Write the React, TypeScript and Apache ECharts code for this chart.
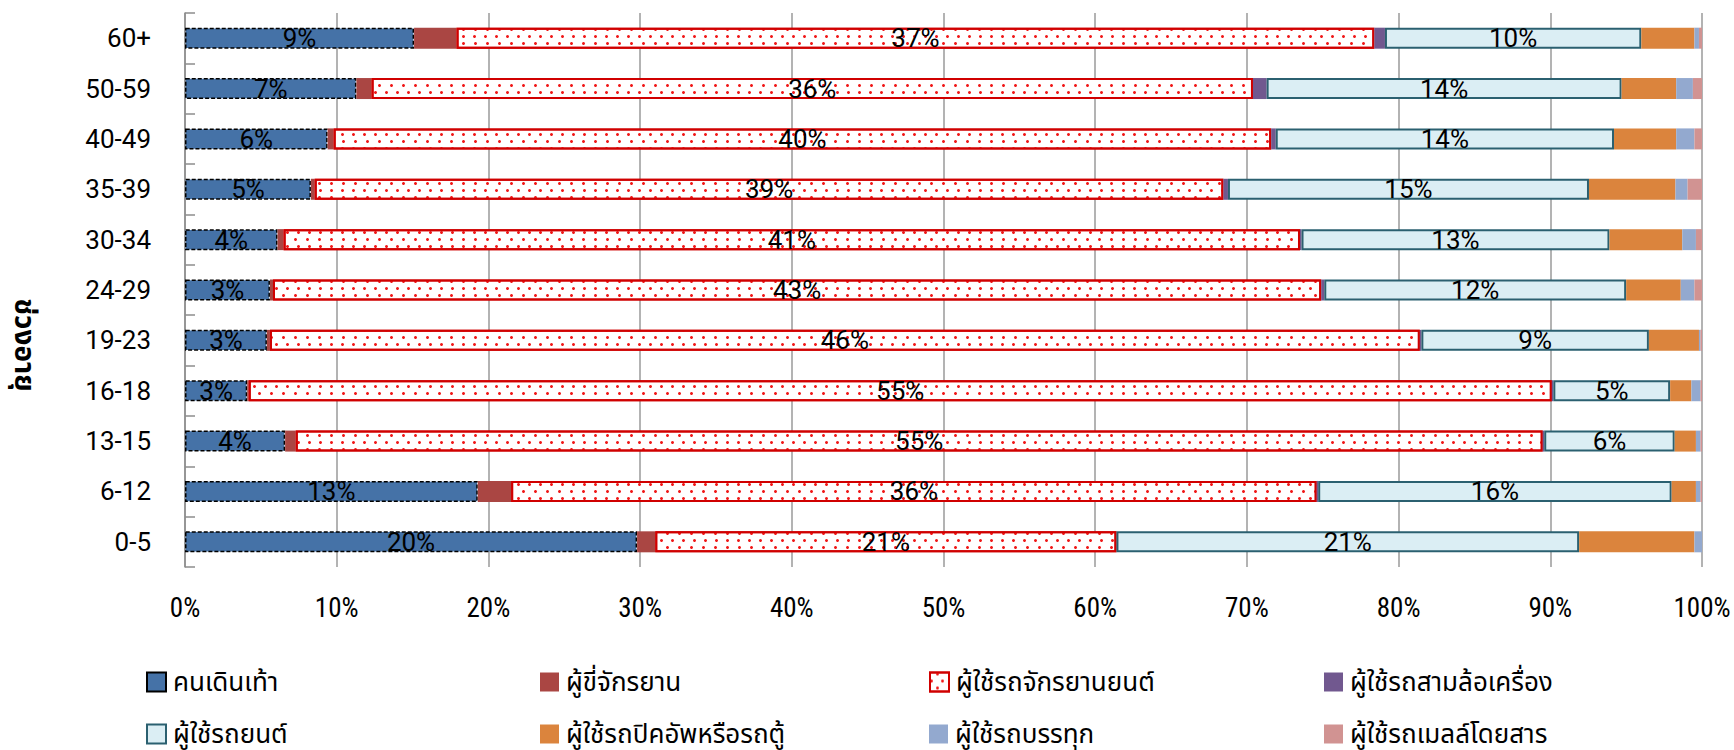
import React, { useEffect, useRef } from "react";
import * as echarts from "echarts";

const categories = ["0-5", "6-12", "13-15", "16-18", "19-23", "24-29", "30-34", "35-39", "40-49", "50-59", "60+"];
const seriesNames = [
  "คนเดินเท้า",
  "ผู้ขี่จักรยาน",
  "ผู้ใช้รถจักรยานยนต์",
  "ผู้ใช้รถสามล้อเครื่อง",
  "ผู้ใช้รถยนต์",
  "ผู้ใช้รถปิคอัพหรือรถตู้",
  "ผู้ใช้รถบรรทุก",
  "ผู้ใช้รถเมลล์โดยสาร",
];
const pedestrian = [29.8, 19.3, 6.6, 4.1, 5.4, 5.6, 6.1, 8.3, 9.4, 11.3, 15.1];
const bicycle = [1.2, 2.2, 0.7, 0.1, 0.2, 0.2, 0.4, 0.25, 0.4, 1.0, 2.8];
const motorcycle = [30.4, 53.1, 82.2, 85.9, 75.8, 69.1, 67.0, 59.9, 61.8, 58.1, 60.5];
const threeWheel = [0, 0.1, 0.1, 0.1, 0.1, 0.2, 0.1, 0.3, 0.3, 0.9, 0.7];
const car = [30.5, 23.3, 8.6, 7.7, 15.0, 19.9, 20.3, 23.8, 22.3, 23.4, 16.9];
const pickup = [7.6, 1.6, 1.4, 1.4, 3.3, 3.6, 4.8, 5.7, 4.1, 3.6, 3.5];
const truck = [0.5, 0.3, 0.3, 0.6, 0.1, 0.9, 0.9, 0.8, 1.2, 1.1, 0.3];
const bus = [0, 0.1, 0.1, 0.1, 0.1, 0.5, 0.4, 0.95, 0.5, 0.6, 0.2];

const pedestrianLabels = [20, 13, 4, 3, 3, 3, 4, 5, 6, 7, 9];
const motorcycleLabels = [21, 36, 55, 55, 46, 43, 41, 39, 40, 36, 37];
const carLabels = [21, 16, 6, 5, 9, 12, 13, 15, 14, 14, 10];

const xTicks = [0, 10, 20, 30, 40, 50, 60, 70, 80, 90, 100];

const FONT = "Roboto, 'Noto Sans Thai', 'Noto Sans', 'DejaVu Sans', sans-serif";
const NARROW = "'Liberation Sans Narrow', 'Roboto Condensed', Roboto, sans-serif";

export default function App() {
  const ref = useRef<HTMLDivElement>(null);
  useEffect(() => {
    if (!ref.current) return;
    const chart = echarts.init(ref.current, null, { renderer: "svg" });

    const labelStyle = { show: true, position: "inside", color: "#000", fontSize: 26, fontFamily: FONT };
    const withLabels = (vals: number[], labels: number[] | null) =>
      vals.map((v, i) => (labels ? { value: v, label: { ...labelStyle, formatter: labels[i] + "%" } } : { value: v }));

    const styles: any[] = [
      { color: "#4572A7", borderColor: "#000", borderWidth: 1.5, borderType: [4, 2] },
      { color: "#AA4643" },
      {
        color: "#ffffff",
        borderColor: "#D00000",
        borderWidth: 2,
        decal: {
          symbol: "circle",
          symbolSize: 1,
          color: "#f01818",
          dashArrayX: [[3, 8], [0, 5.5, 3, 2.5]],
          dashArrayY: [3, 3.5],
          rotation: 0,
        },
      },
      { color: "#71588F" },
      { color: "#DBEEF4", borderColor: "#2B6070", borderWidth: 2 },
      { color: "#DB843D" },
      { color: "#93A9CF" },
      { color: "#D19392" },
    ];
    const valuesList = [pedestrian, bicycle, motorcycle, threeWheel, car, pickup, truck, bus];
    const labelsList = [pedestrianLabels, null, motorcycleLabels, null, carLabels, null, null, null];

    const series = seriesNames.map((name, k) => ({
      name,
      type: "bar",
      stack: "total",
      barWidth: 21,
      itemStyle: styles[k],
      label: { show: false },
      emphasis: { disabled: true },
      data: withLabels(valuesList[k], labelsList[k]),
    }));

    const legendLeft = [146, 540, 929, 1324];
    const legendTop = [669, 721];
    const legends = seriesNames.map((name, k) => ({
      data: [name],
      left: legendLeft[k % 4],
      top: legendTop[Math.floor(k / 4)],
      padding: 0,
      itemWidth: 19,
      itemHeight: 19,
      itemGap: 9,
      icon: "rect",
      selectedMode: false,
      textStyle: { fontSize: 26, color: "#000", fontFamily: FONT, padding: [0, 0, 0, 2] },
    }));

    chart.setOption({
      animation: false,
      aria: { enabled: false },
      grid: { left: 185, right: 32, top: 13, bottom: 183, containLabel: false },
      xAxis: {
        type: "value",
        min: 0,
        max: 100,
        interval: 10,
        axisLine: { show: false },
        axisTick: { show: false },
        axisLabel: {
          formatter: (v: number) => (xTicks.includes(v) ? v + "%" : ""),
          color: "#000",
          fontSize: 27,
          fontFamily: NARROW,
          margin: 27,
        },
        splitLine: { show: true, lineStyle: { color: "#9a9a9a", width: 1.5 } },
      },
      yAxis: {
        type: "category",
        data: categories,
        axisLine: { show: true, lineStyle: { color: "#8c8c8c", width: 1.5 } },
        axisTick: { show: true, inside: true, length: 10, lineStyle: { color: "#8c8c8c", width: 1.5 } },
        axisLabel: { color: "#000", fontSize: 26, fontFamily: FONT, margin: 34 },
        splitLine: { show: false },
      },
      legend: legends,
      graphic: [
        {
          type: "text",
          x: 24,
          y: 345,
          rotation: -Math.PI / 2,
          style: {
            text: "ช่วงอายุ",
            fontSize: 28,
            fontWeight: "bold",
            fontFamily: FONT,
            fill: "#000",
            align: "center",
            verticalAlign: "middle",
          },
        },
      ],
      series,
    });
    return () => chart.dispose();
  }, []);
  return <div ref={ref} style={{ position: "fixed", left: 0, top: 0, width: 1734, height: 750, background: "#fff" }} />;
}
